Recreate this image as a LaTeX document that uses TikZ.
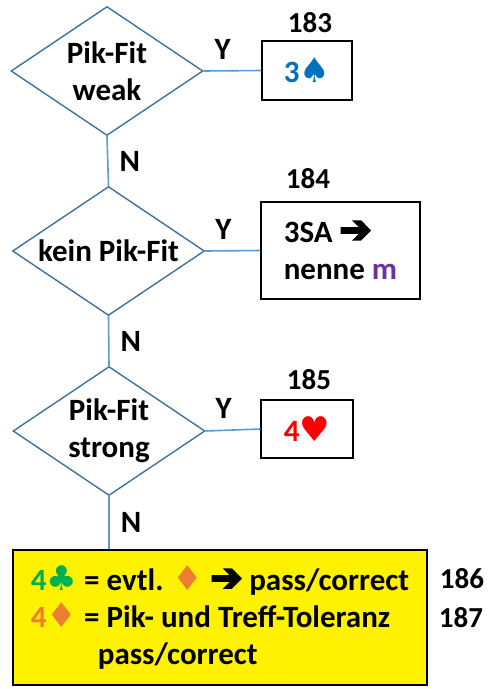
\documentclass[tikz,border=0pt]{standalone}
\usepackage{fontspec}
\setmainfont{Carlito}
\newfontfamily\symfont{DejaVu Sans}
\newfontfamily\arrowfont[FakeBold=6]{DejaVu Sans}
\newcommand{\suit}[1]{\scalebox{1.1}{\symfont #1}}
\newcommand{\thenarrow}{{\arrowfont\fontsize{38}{37}\selectfont ➔}}
\usetikzlibrary{shapes.geometric}

\definecolor{flowline}{HTML}{5B9BD5}
\definecolor{diamondedge}{HTML}{41719C}
\definecolor{spadeblue}{HTML}{0070C0}
\definecolor{minorpurple}{HTML}{7030A0}
\definecolor{clubgreen}{HTML}{00B050}
\definecolor{diamorange}{HTML}{ED7D31}

\tikzset{
  txt/.style={font=\bfseries\fontsize{31}{37}\selectfont},
  numtxt/.style={font=\bfseries\fontsize{29}{35}\selectfont},
  decision/.style={txt, draw=diamondedge, line width=1.4pt, shape=diamond,
    shape aspect=1.49, minimum width=192pt, minimum height=129pt,
    inner xsep=-12pt, inner ysep=-6pt, align=center},
  outbox/.style={txt, draw=black, line width=1.4pt, inner sep=0pt},
  flow/.style={draw=flowline, line width=1.6pt},
  refnum/.style={numtxt, anchor=base, inner sep=0pt},
  ylab/.style={txt, anchor=south, inner sep=0pt, yshift=11pt},
  nlab/.style={txt, anchor=west, inner sep=0pt, xshift=11pt},
}

\begin{document}
\begin{tikzpicture}[x=1pt, y=-1pt]
\useasboundingbox (0,0) rectangle (488,689);

% decisions
\node[decision] (d1) at (107,71)  {Pik-Fit\\weak};
\node[decision] (d2) at (108.5,251) {kein Pik-Fit};
\node[decision] (d3) at (109,431) {Pik-Fit\\strong};

% outcomes
\node[outbox, minimum width=90pt, minimum height=59pt] (b1) at (307,70.5)
  {\textcolor{spadeblue}{3\suit{♠}}};
\node[outbox, minimum width=159pt, minimum height=97pt, align=left] (b2) at (340.5,250.5)
  {3SA \thenarrow\\nenne \textcolor{minorpurple}{m}};
\node[outbox, minimum width=92pt, minimum height=58pt] (b3) at (307,429)
  {\textcolor{red}{4\suit{♥}}};
\node[outbox, fill=yellow, minimum width=414pt, minimum height=135pt,
      align=left] (b4) at (220,617.5)
  {\textcolor{clubgreen}{4\suit{♣}} = evtl. \textcolor{diamorange}{\suit{♦}} \thenarrow\ pass/correct\\
   \textcolor{diamorange}{4\suit{♦}} = Pik- und Treff-Toleranz\\
   \hspace*{67pt}pass/correct};

% connectors
\draw[flow] (d1.east) -- node[ylab, pos=0.33] {Y} (b1.west);
\draw[flow] (d2.east) -- node[ylab, pos=0.33] {Y} (b2.west);
\draw[flow] (d3.east) -- node[ylab, pos=0.33] {Y} (b3.west);
\draw[flow] (d1.south) -- node[nlab] {N} (d2.north);
\draw[flow] (d2.south) -- node[nlab] {N} (d3.north);
\draw[flow] (d3.south) -- node[nlab] {N} (b4.north -| d3.south);

% reference numbers
\node[refnum] (n183) at (310,32)  {183};
\node[refnum] (n184) at (308,188) {184};
\node[refnum] (n185) at (309,389) {185};
\node[refnum] (n186) at (462,588) {186};
\node[refnum] (n187) at (461,627) {187};
\end{tikzpicture}
\end{document}
